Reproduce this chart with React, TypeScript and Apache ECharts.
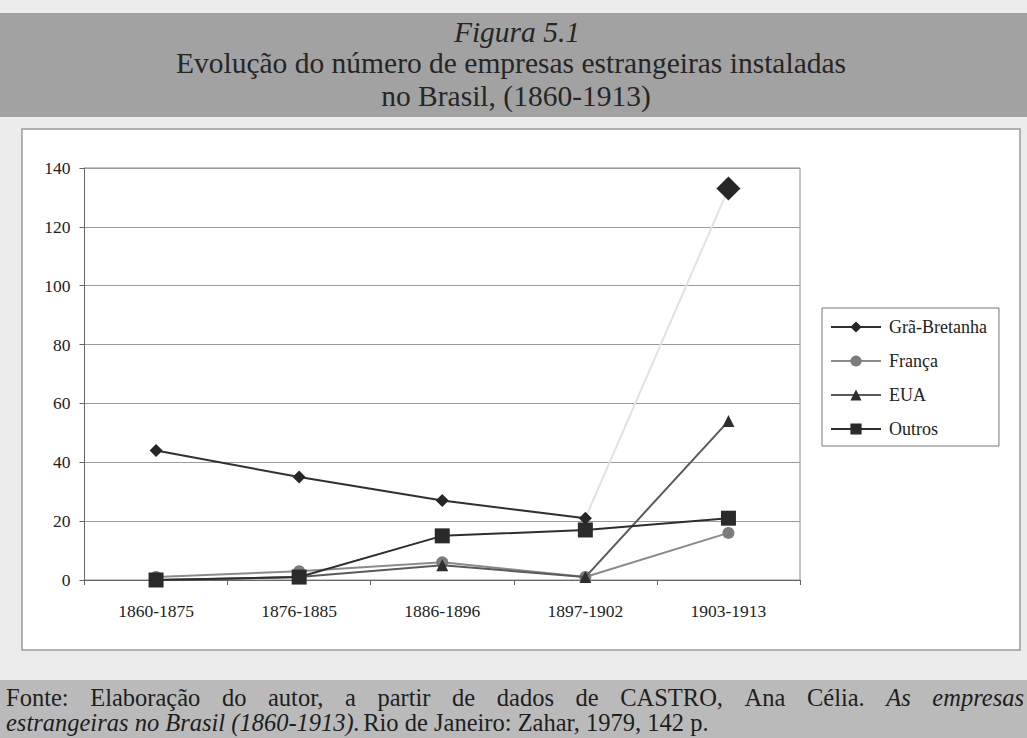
import React, { useEffect, useRef } from "react";
import * as echarts from "echarts";

const categories = ["1860-1875", "1876-1885", "1886-1896", "1897-1902", "1903-1913"];
const gb = [44, 35, 27, 21, 133];
const franca = [1, 3, 6, 1, 16];
const eua = [0, 1, 5, 1, 54];
const outros = [0, 1, 15, 17, 21];
const seriesNames = ["Grã-Bretanha", "França", "EUA", "Outros"];
const yMin = 0;
const yMax = 140;
const yStep = 20;

const titleLines = [
  "Figura 5.1",
  "Evolução do número de empresas estrangeiras instaladas",
  "no Brasil, (1860-1913)",
];

// footer line 1 words: [text, italic]
const footerLine1: [string, boolean][] = [
  ["Fonte:", false], ["Elaboração", false], ["do", false], ["autor,", false], ["a", false],
  ["partir", false], ["de", false], ["dados", false], ["de", false], ["CASTRO,", false],
  ["Ana", false], ["Célia.", false], ["As", true], ["empresas", true],
];
const footerLine2Italic = "estrangeiras no Brasil (1860-1913).";
const footerLine2Normal = "Rio de Janeiro: Zahar, 1979, 142 p.";

const SERIF = "Liberation Serif";
const FOOT_SIZE = 24.5;
const TITLE_SIZE = 29.5;

function measure(text: string, font: string): number {
  const c = document.createElement("canvas").getContext("2d");
  if (!c) return text.length * 10;
  c.font = font;
  return c.measureText(text).width;
}

export default function App() {
  const ref = useRef<HTMLDivElement>(null);
  useEffect(() => {
    if (!ref.current) return;
    const chart = echarts.init(ref.current, null, { renderer: "svg" });
    const lastIdx = gb.length - 1;
    const gbMain = gb.map((v, i) => (i < lastIdx ? v : "-"));
    const gbTail = gb.map((v, i) =>
      i < lastIdx - 1 ? "-" : i === lastIdx - 1 ? { value: v, symbol: "none" } : v
    );

    // justified footer line 1
    const fontN = `${FOOT_SIZE}px "${SERIF}"`;
    const fontI = `italic ${FOOT_SIZE}px "${SERIF}"`;
    const widths = footerLine1.map(([w, it]) => measure(w, it ? fontI : fontN));
    const startX = 6;
    const endX = 1024;
    const total = widths.reduce((a, b) => a + b, 0);
    const gap = (endX - startX - total) / (footerLine1.length - 1);
    let cx = startX;
    const footerWords = footerLine1.map(([w, it], i) => {
      const el = {
        type: "text",
        x: cx,
        y: 697,
        style: {
          text: w,
          fontFamily: SERIF,
          fontSize: FOOT_SIZE,
          fontStyle: it ? "italic" : "normal",
          fill: "#1e1e1e",
          verticalAlign: "middle",
        },
      };
      cx += widths[i] + gap;
      return el;
    });

    chart.setOption({
      animation: false,
      backgroundColor: "#ececec",
      graphic: [
        { type: "rect", z: -10, shape: { x: 0, y: 13, width: 1027, height: 104 }, style: { fill: "#a2a2a2" } },
        { type: "rect", z: -10, shape: { x: 22, y: 129, width: 998, height: 521 }, style: { fill: "#ffffff", stroke: "#9a9a9a", lineWidth: 1.5 } },
        { type: "rect", z: -10, shape: { x: 0, y: 680, width: 1027, height: 58 }, style: { fill: "#bababa" } },
        {
          type: "text", x: 517, y: 32,
          style: { text: titleLines[0], fontFamily: SERIF, fontSize: TITLE_SIZE, fontStyle: "italic", fill: "#262626", align: "center", verticalAlign: "middle" },
        },
        {
          type: "text", x: 511, y: 63,
          style: { text: titleLines[1], fontFamily: SERIF, fontSize: TITLE_SIZE, fill: "#262626", align: "center", verticalAlign: "middle" },
        },
        {
          type: "text", x: 516, y: 96,
          style: { text: titleLines[2], fontFamily: SERIF, fontSize: TITLE_SIZE, fill: "#262626", align: "center", verticalAlign: "middle" },
        },
        ...footerWords,
        {
          type: "text", x: 6, y: 722,
          style: {
            text: `{i|${footerLine2Italic}} {n|${footerLine2Normal}}`,
            verticalAlign: "middle",
            rich: {
              n: { fontFamily: SERIF, fontSize: FOOT_SIZE, fill: "#1e1e1e" },
              i: { fontFamily: SERIF, fontSize: FOOT_SIZE, fontStyle: "italic", fill: "#1e1e1e" },
            },
          },
        },
      ],
      grid: {
        left: 84.5, right: 227, top: 168, bottom: 158,
        show: true, backgroundColor: "#ffffff", borderColor: "#8a8a8a", borderWidth: 1,
      },
      legend: {
        data: seriesNames,
        orient: "vertical",
        left: 822,
        top: 308,
        itemWidth: 50,
        itemHeight: 14,
        itemGap: 16,
        padding: [10, 12, 8, 8],
        borderColor: "#777",
        borderWidth: 1,
        backgroundColor: "#fff",
        textStyle: { fontFamily: SERIF, fontSize: 18, color: "#222", lineHeight: 17, padding: [0, 0, 0, 3] },
      },
      xAxis: {
        type: "category",
        data: categories,
        boundaryGap: true,
        axisLine: { lineStyle: { color: "#666", width: 1 } },
        axisTick: { show: true, length: 5, inside: false, lineStyle: { color: "#666" } },
        axisLabel: { fontFamily: SERIF, fontSize: 17.5, color: "#222", margin: 22 },
      },
      yAxis: {
        type: "value",
        min: yMin,
        max: yMax,
        interval: yStep,
        axisLine: { show: true, lineStyle: { color: "#666", width: 1 } },
        axisTick: { show: true, length: 5, lineStyle: { color: "#666" } },
        axisLabel: { fontFamily: SERIF, fontSize: 17.5, color: "#222", margin: 14 },
        splitLine: { lineStyle: { color: "#9a9a9a", width: 1 } },
      },
      series: [
        {
          name: "Grã-Bretanha (1897-1913)",
          type: "line",
          data: gbTail,
          symbol: "diamond",
          symbolSize: 24,
          z: 2,
          itemStyle: { color: "#262626" },
          lineStyle: { color: "#e2e2e2", width: 2 },
        },
        {
          name: seriesNames[1],
          type: "line",
          data: franca,
          symbol: "circle",
          symbolSize: 12,
          z: 3,
          itemStyle: { color: "#7c7c7c" },
          lineStyle: { color: "#8a8a8a", width: 2 },
        },
        {
          name: seriesNames[2],
          type: "line",
          data: eua,
          symbol: "triangle",
          symbolSize: 12,
          z: 4,
          itemStyle: { color: "#2e2e2e" },
          lineStyle: { color: "#5a5a5a", width: 2 },
        },
        {
          name: seriesNames[3],
          type: "line",
          data: outros,
          symbol: "rect",
          symbolSize: 15,
          z: 5,
          itemStyle: { color: "#2a2a2a" },
          lineStyle: { color: "#2e2e2e", width: 2 },
        },
        {
          name: seriesNames[0],
          type: "line",
          data: gbMain,
          symbol: "diamond",
          symbolSize: 13,
          z: 6,
          connectNulls: false,
          itemStyle: { color: "#262626" },
          lineStyle: { color: "#303030", width: 2 },
        },
      ],
    });
    return () => chart.dispose();
  }, []);
  return (
    <div
      ref={ref}
      style={{ position: "fixed", left: 0, top: 0, width: 1027, height: 738 }}
    />
  );
}
